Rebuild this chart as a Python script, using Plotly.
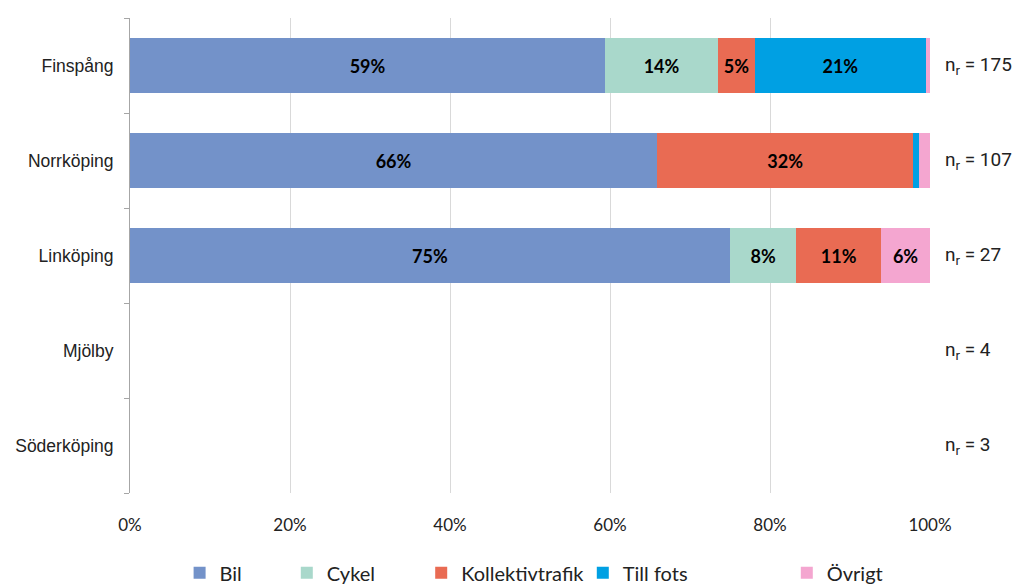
import plotly.graph_objects as go

cities = ["Finspång", "Norrköping", "Linköping", "Mjölby", "Söderköping"]
n_r = [175, 107, 27, 4, 3]

bil = [59.4, 65.9, 75.0, None, None]
cykel = [14.1, 0.0, 8.3, None, None]
kollektiv = [4.6, 32.0, 10.6, None, None]
till_fots = [21.4, 0.7, 0.0, None, None]
ovrigt = [0.5, 1.4, 6.1, None, None]

series = [
    ("Bil", bil, "#7392C9"),
    ("Cykel", cykel, "#A9D8CB"),
    ("Kollektivtrafik", kollektiv, "#E96B53"),
    ("Till fots", till_fots, "#00A0E3"),
    ("Övrigt", ovrigt, "#F4A6D0"),
]

legend_x = [0.062, 0.196, 0.364, 0.566, 0.821]

fig = go.Figure()
for i, (name, vals, col) in enumerate(series):
    txt = [(f"{round(v)}%" if (v is not None and v >= 4) else "") for v in vals]
    fig.add_trace(go.Bar(
        name=name, y=cities, x=vals, orientation="h",
        marker=dict(color=col, line=dict(width=0)),
        text=txt, textposition="inside", insidetextanchor="middle",
        textangle=0, constraintext="none",
        textfont=dict(family="Lato", size=18, color="black", weight="bold"),
        width=0.58, hoverinfo="x+y", showlegend=True,
        legend="legend" if i == 0 else f"legend{i+1}",
    ))

for c, n in zip(cities, n_r):
    fig.add_annotation(x=1.016, xref="paper", y=c, yref="y",
                       text=f"n<sub>r</sub> = {n}", showarrow=False,
                       xanchor="left", yanchor="middle",
                       font=dict(family="Roboto", size=19, color="#222"))

legends = {}
for i, lx in enumerate(legend_x):
    key = "legend" if i == 0 else f"legend{i+1}"
    legends[key] = dict(x=lx, y=-0.127, xanchor="left", yanchor="top",
                        orientation="h", bgcolor="rgba(0,0,0,0)",
                        font=dict(family="Lato", size=20, color="#222"),
                        itemwidth=30, visible=True)

fig.update_layout(
    barmode="stack",
    width=1015, height=577,
    margin=dict(l=122, r=93, t=10, b=92, autoexpand=False),
    paper_bgcolor="white", plot_bgcolor="white",
    showlegend=True,
    **legends,
)
fig.update_xaxes(range=[0, 100], tickvals=[0, 20, 40, 60, 80, 100],
                 ticktext=["0%", "20%", "40%", "60%", "80%", "100%"],
                 showgrid=True, gridcolor="#d9d9d9", gridwidth=1,
                 zeroline=False, showline=False, ticks="",
                 tickfont=dict(family="Lato", size=17, color="#222"),
                 ticklabelstandoff=20)
fig.update_yaxes(categoryorder="array", categoryarray=cities[::-1],
                 autorange=False, range=[-0.5, 4.5],
                 showline=True, linecolor="#a6a6a6", linewidth=1,
                 ticks="outside", ticklen=5, tickcolor="#a6a6a6",
                 tickson="boundaries", showgrid=False,
                 tickfont=dict(family="Liberation Sans", size=17.5, color="#222"),
                 ticklabelstandoff=12)

fig.write_html("out.html")
